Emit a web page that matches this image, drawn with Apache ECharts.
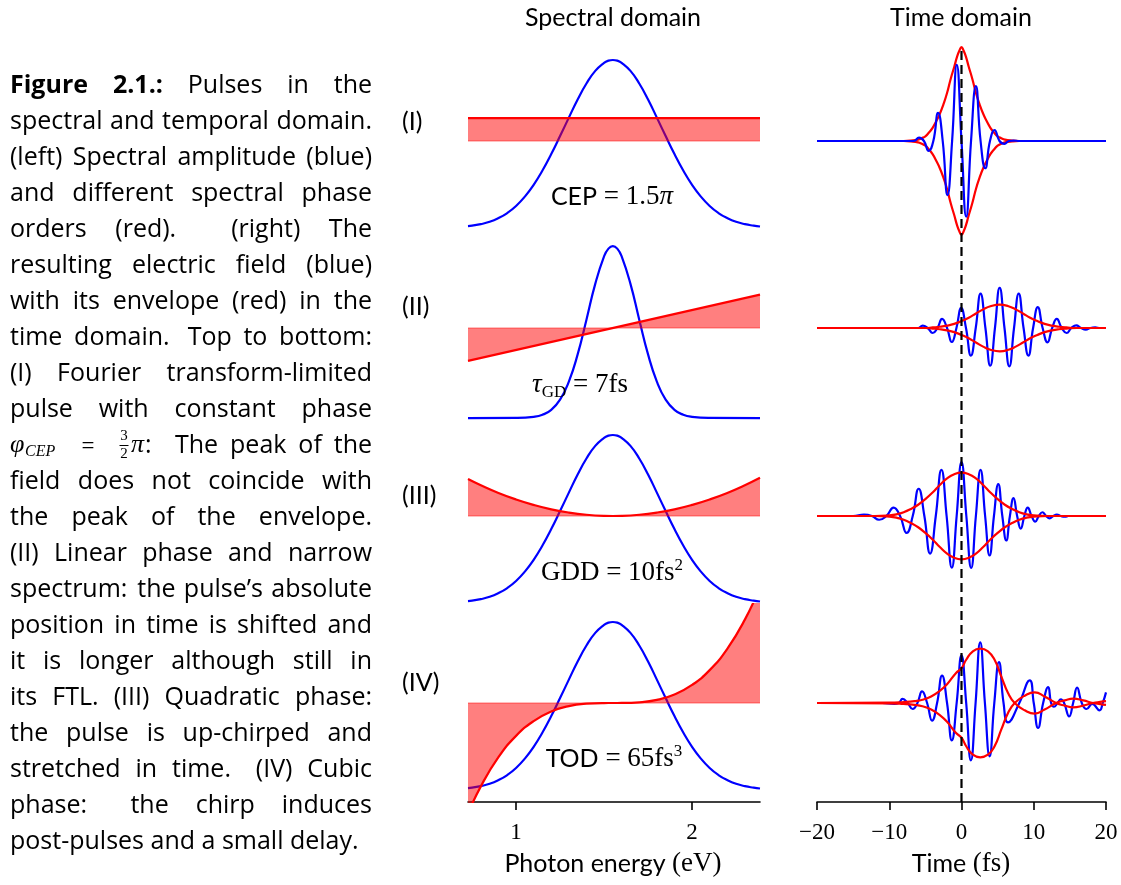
<!DOCTYPE html>
<html><head><meta charset="utf-8">
<script src="https://cdn.jsdelivr.net/npm/echarts@6/dist/echarts.min.js"></script>
<style>html,body{margin:0;padding:0;background:#fff}#c{width:1121px;height:885px}</style>
</head><body><div id="c"></div>
<script>
// ---------------- DATA ----------------
// Spectral amplitude, broad spectrum (rows I, III, IV): photon energy (eV) / amplitude
const SPEC_E = [0.727, 0.75, 0.8, 0.85, 0.9, 0.95, 1.0, 1.05, 1.1, 1.15, 1.2, 1.25, 1.3, 1.35, 1.4, 1.45, 1.5, 1.525, 1.55, 1.575, 1.6, 1.65, 1.7, 1.75, 1.8, 1.85, 1.9, 1.95, 2.0, 2.05, 2.1, 2.15, 2.2, 2.25, 2.3, 2.35, 2.386];
const SPEC_WIDE = [0.011, 0.014, 0.023, 0.037, 0.059, 0.089, 0.131, 0.187, 0.257, 0.342, 0.44, 0.547, 0.657, 0.765, 0.86, 0.935, 0.983, 0.996, 1.0, 0.996, 0.983, 0.935, 0.86, 0.765, 0.657, 0.547, 0.44, 0.342, 0.257, 0.187, 0.131, 0.089, 0.059, 0.037, 0.023, 0.014, 0.009];
// narrow spectral amplitude (row II)
const E_NARROW = [0.727, 1.0, 1.1, 1.15, 1.2, 1.25, 1.3, 1.35, 1.4, 1.45, 1.5, 1.525, 1.55, 1.575, 1.6, 1.65, 1.7, 1.75, 1.8, 1.85, 1.9, 1.95, 2.0, 2.1, 2.386];
const SPEC_NARROW = [0, 0.001, 0.007, 0.019, 0.048, 0.107, 0.212, 0.37, 0.572, 0.78, 0.94, 0.985, 1.0, 0.985, 0.94, 0.78, 0.572, 0.37, 0.212, 0.107, 0.048, 0.019, 0.007, 0.001, 0];
// spectral phases (rad)
const E_GRID = [0.727, 0.8, 0.9, 1.0, 1.1, 1.2, 1.3, 1.4, 1.5, 1.55, 1.6, 1.7, 1.8, 1.9, 2.0, 2.1, 2.2, 2.3, 2.386];
const PHASE_CEP = [4.71, 4.71, 4.71, 4.71, 4.71, 4.71, 4.71, 4.71, 4.71, 4.71, 4.71, 4.71, 4.71, 4.71, 4.71, 4.71, 4.71, 4.71, 4.71];
const E_LIN = [0.727, 2.386];
const PHASE_GD = [-8.75, 8.89];
const PHASE_GDD = [7.81, 6.49, 4.87, 3.49, 2.34, 1.41, 0.72, 0.26, 0.03, 0, 0.03, 0.26, 0.72, 1.41, 2.34, 3.49, 4.87, 6.49, 8.06];
const PHASE_TOD = [-21.2, -16.0, -10.4, -6.31, -3.47, -1.63, -0.59, -0.13, -0.005, 0, 0.005, 0.13, 0.59, 1.63, 3.47, 6.31, 10.4, 16.0, 22.2];

// Time domain (fs): electric field and envelope
const FIELD_I_T = [-20, -8, -6.6, -5.88, -5.2, -4.54, -3.9, -3.24, -2.6, -1.94, -1.3, -0.65, 0, 0.65, 1.32, 1.99, 2.64, 3.29, 3.94, 4.58, 5.26, 5.93, 6.56, 7.2, 8, 20];
const FIELD_I = [0, 0, 0, 0.035, 0, -0.106, 0, 0.30, 0, -0.575, 0, 0.81, 0, -0.805, 0, 0.585, 0, -0.29, 0, 0.117, 0, -0.03, 0, 0.005, 0, 0];
const ENV_I_T = [-20, -8, -7, -6, -5.5, -5, -4.5, -4, -3.5, -3, -2.5, -2, -1.5, -1, -0.6, -0.3, 0, 0.3, 0.6, 1, 1.5, 2, 2.5, 3, 3.5, 4, 4.5, 5, 5.5, 6, 7, 8, 20];
const ENV_I_UP = [0, 0, 0.004, 0.015, 0.03, 0.05, 0.09, 0.14, 0.21, 0.29, 0.39, 0.51, 0.66, 0.79, 0.9, 0.96, 1.0, 0.96, 0.9, 0.79, 0.66, 0.51, 0.39, 0.29, 0.21, 0.14, 0.09, 0.05, 0.03, 0.015, 0.004, 0, 0];
const ENV_I_LO = [0, 0, -0.004, -0.015, -0.03, -0.05, -0.09, -0.14, -0.21, -0.29, -0.39, -0.51, -0.66, -0.79, -0.9, -0.96, -1.0, -0.96, -0.9, -0.79, -0.66, -0.51, -0.39, -0.29, -0.21, -0.14, -0.09, -0.05, -0.03, -0.015, -0.004, 0, 0];

const FIELD_II_T = [-20, -7, -6.0, -5.37, -4.68, -3.98, -3.33, -2.69, -2.0, -1.34, -0.7, -0.05, 0.62, 1.30, 1.97, 2.64, 3.31, 3.98, 4.63, 5.28, 5.95, 6.62, 7.27, 7.92, 8.59, 9.26, 9.91, 10.56, 11.23, 11.9, 12.55, 13.19, 13.87, 14.54, 15.21, 15.88, 16.54, 17.2, 17.85, 18.5, 19.2, 20];
const FIELD_II = [0, 0, 0, 0.025, 0, -0.053, 0, 0.096, 0, -0.149, 0, 0.213, 0, -0.294, 0, 0.365, 0, -0.40, 0, 0.426, 0, -0.408, 0, 0.365, 0, -0.294, 0, 0.223, 0, -0.152, 0, 0.096, 0, -0.053, 0, 0.028, 0, -0.018, 0, 0.006, 0, 0];
const ENV_II_T = [-20, -5, -4, -3, -2, -1, 0, 1, 2, 3, 4, 5.3, 6.5, 7.5, 8.5, 9.5, 10.5, 11.5, 12.5, 13.5, 14.5, 16, 20];
const ENV_II_UP = [0, 0, 0.006, 0.013, 0.025, 0.044, 0.074, 0.11, 0.155, 0.198, 0.231, 0.248, 0.231, 0.198, 0.155, 0.11, 0.074, 0.044, 0.025, 0.013, 0.006, 0, 0];
const ENV_II_LO = [0, 0, -0.006, -0.013, -0.025, -0.044, -0.074, -0.11, -0.155, -0.198, -0.231, -0.248, -0.231, -0.198, -0.155, -0.11, -0.074, -0.044, -0.025, -0.013, -0.006, 0, 0];

const FIELD_III_T = [-20, -15, -13.5, -12.4, -11.4, -10.4, -9.4, -8.5, -7.6, -6.75, -5.93, -5.14, -4.35, -3.56, -2.78, -2.06, -1.34, -0.67, 0, 0.67, 1.34, 1.99, 2.64, 3.27, 3.89, 4.49, 5.09, 5.65, 6.2, 6.7, 7.2, 7.7, 8.2, 8.7, 9.17, 9.7, 10.2, 10.7, 11.2, 11.7, 12.2, 12.7, 13.2, 13.75, 14.3, 14.8, 20];
const FIELD_III = [0, 0, 0.014, 0, -0.04, 0, 0.09, 0, -0.18, 0, 0.29, 0, -0.40, 0, 0.49, 0, -0.55, 0, 0.574, 0, -0.553, 0, 0.49, 0, -0.42, 0, 0.34, 0, -0.26, 0, 0.19, 0, -0.135, 0, 0.09, 0, -0.06, 0, 0.04, 0, -0.025, 0, 0.015, 0, -0.008, 0, 0];
const ENV_III_T = [-20, -12, -10, -9, -8, -7, -6, -5, -4, -3, -2, -1, 0, 1, 2, 3, 4, 5, 6, 7, 8, 9, 10, 12, 20];
const ENV_III_UP = [0, 0, 0.007, 0.018, 0.04, 0.075, 0.12, 0.18, 0.25, 0.33, 0.40, 0.445, 0.461, 0.445, 0.40, 0.33, 0.25, 0.18, 0.12, 0.075, 0.04, 0.018, 0.007, 0, 0];
const ENV_III_LO = [0, 0, -0.007, -0.018, -0.04, -0.075, -0.12, -0.18, -0.25, -0.33, -0.40, -0.445, -0.461, -0.445, -0.40, -0.33, -0.25, -0.18, -0.12, -0.075, -0.04, -0.018, -0.007, 0, 0];

const FIELD_IV_T = [-20, -11, -9.3, -8.7, -8.15, -7.45, -6.76, -6.1, -5.46, -4.76, -4.07, -3.38, -2.69, -2.0, -1.34, -0.67, 0, 0.65, 1.3, 1.95, 2.59, 3.24, 3.89, 4.54, 5.19, 5.82, 6.44, 8.0, 9.44, 10.0, 10.6, 11.3, 12.0, 12.4, 12.8, 13.3, 13.75, 14.2, 14.9, 15.45, 16.0, 16.65, 17.3, 18.1, 19.1, 19.55, 20];
const FIELD_IV = [0, 0, -0.01, 0, 0.043, 0, -0.064, 0, 0.124, 0, -0.188, 0, 0.291, 0, -0.397, 0, 0.507, 0, -0.61, 0, 0.645, 0, -0.567, 0, 0.436, 0, -0.206, 0, 0.241, 0, -0.266, 0, 0.17, 0, -0.04, 0, 0.04, 0, -0.142, 0, 0.163, 0, -0.064, -0.01, -0.078, 0, 0.113];
const ENV_IV_T = [-20, -10, -8, -6.5, -5.4, -4.2, -3.1, -2, -0.75, 0, 0.65, 1.57, 2.59, 3.66, 4.58, 5.5, 6.44, 7.36, 8.75, 10.14, 11.5, 13.1, 14.3, 15.46, 16.85, 18.2, 19.2, 20];
const ENV_IV_UP = [0, 0.003, 0.01, 0.02, 0.035, 0.07, 0.124, 0.2, 0.32, 0.37, 0.46, 0.55, 0.578, 0.55, 0.46, 0.284, 0.106, 0, -0.078, -0.113, -0.07, 0, 0.028, 0.046, 0.028, 0, -0.012, -0.02];
const ENV_IV_LO = [0, -0.003, -0.01, -0.02, -0.035, -0.07, -0.124, -0.2, -0.32, -0.37, -0.46, -0.55, -0.578, -0.55, -0.46, -0.284, -0.106, 0, 0.078, 0.113, 0.07, 0, -0.028, -0.046, -0.028, 0, 0.012, 0.02];

// tick labels and row labels
const E_TICKS = [1, 2];
const T_TICKS = [-20, -10, 0, 10, 20];
const ROW_LABELS = ['(I)', '(II)', '(III)', '(IV)'];

// ---------------- LAYOUT ----------------
const ROW_TOP = [42, 229, 417, 604];
const ROW_H = 198;
const SPEC_MIN = [-0.0714, -0.052, -0.0714, -0.0714];
const SPEC_MAX = [1.107, 1.099, 1.107, 1.107];
const PHASE_LIM = [20.3, 26.4, 20.9, 19.0];
const T_LIM = 1.053;
const E_MIN = 0.727, E_MAX = 2.386;

const SANS = 'Lato';
const CAP_SANS = 'Open Sans';
const SERIF = 'Liberation Serif';
const BLUE = '#0000ff', RED = '#ff0000', FILL = 'rgba(255,0,0,0.5)';

function pairs(xs, ys) { return xs.map((x, i) => [x, ys[i]]); }

const specData = [pairs(SPEC_E, SPEC_WIDE), pairs(E_NARROW, SPEC_NARROW), pairs(SPEC_E, SPEC_WIDE), pairs(SPEC_E, SPEC_WIDE)];
const phaseData = [pairs(E_GRID, PHASE_CEP), pairs(E_LIN, PHASE_GD), pairs(E_GRID, PHASE_GDD), pairs(E_GRID, PHASE_TOD)];
const fieldData = [pairs(FIELD_I_T, FIELD_I), pairs(FIELD_II_T, FIELD_II), pairs(FIELD_III_T, FIELD_III), pairs(FIELD_IV_T, FIELD_IV)];
const envUp = [pairs(ENV_I_T, ENV_I_UP), pairs(ENV_II_T, ENV_II_UP), pairs(ENV_III_T, ENV_III_UP), pairs(ENV_IV_T, ENV_IV_UP)];
const envLo = [pairs(ENV_I_T, ENV_I_LO), pairs(ENV_II_T, ENV_II_LO), pairs(ENV_III_T, ENV_III_LO), pairs(ENV_IV_T, ENV_IV_LO)];

const grids = [], xAxes = [], yAxes = [], series = [];
const axisCommon = {
  axisLine: { onZero: false, lineStyle: { color: '#000', width: 1.6 } },
  axisTick: { length: 8, inside: false, lineStyle: { color: '#000', width: 1.6 } },
  splitLine: { show: false },
};
for (let i = 0; i < 4; i++) {
  grids.push({ left: 468, top: ROW_TOP[i], width: 292, height: ROW_H, containLabel: false, outerBoundsMode: 'none' });
}
for (let i = 0; i < 4; i++) {
  grids.push({ left: 817, top: ROW_TOP[i], width: 289, height: ROW_H, containLabel: false, outerBoundsMode: 'none' });
}
grids.push({ left: 817, top: 47, width: 289, height: 755, containLabel: false, outerBoundsMode: 'none' });

const tickLabelStyle = { margin: 19, fontFamily: SERIF, fontSize: 23, color: '#000' };
for (let i = 0; i < 4; i++) {
  xAxes.push(Object.assign({}, axisCommon, {
    gridIndex: i, type: 'value', min: E_MIN, max: E_MAX, show: i === 3,
    axisTick: Object.assign({}, axisCommon.axisTick, { customValues: E_TICKS }),
    axisLabel: Object.assign({ customValues: E_TICKS }, tickLabelStyle)
  }));
}
for (let i = 0; i < 4; i++) {
  xAxes.push(Object.assign({}, axisCommon, {
    gridIndex: 4 + i, type: 'value', min: T_TICKS[0], max: T_TICKS[T_TICKS.length - 1], interval: 10, show: i === 3,
    axisLabel: Object.assign({ showMinLabel: true, showMaxLabel: true,
      formatter: v => (v < 0 ? '\u2212' + (-v) : '' + v) }, tickLabelStyle)
  }));
}
xAxes.push({ gridIndex: 8, type: 'value', min: -20, max: 20, show: false });

for (let i = 0; i < 4; i++) {
  yAxes.push({ gridIndex: i, type: 'value', min: SPEC_MIN[i], max: SPEC_MAX[i], show: false });
  yAxes.push({ gridIndex: i, type: 'value', min: -PHASE_LIM[i], max: PHASE_LIM[i], show: false });
}
for (let i = 0; i < 4; i++) {
  yAxes.push({ gridIndex: 4 + i, type: 'value', min: -T_LIM, max: T_LIM, show: false });
}
yAxes.push({ gridIndex: 8, type: 'value', min: 0, max: 1, show: false });

const lineBase = { type: 'line', showSymbol: false, symbol: 'none', silent: true, emphasis: { disabled: true }, animation: false };
for (let i = 0; i < 4; i++) {
  series.push(Object.assign({}, lineBase, {
    xAxisIndex: i, yAxisIndex: 2 * i, data: specData[i], smooth: true, z: 2,
    lineStyle: { color: BLUE, width: 2.2 }
  }));
  series.push(Object.assign({}, lineBase, {
    xAxisIndex: i, yAxisIndex: 2 * i + 1, data: [[E_MIN, 0], [E_MAX, 0]], z: 3,
    lineStyle: { color: FILL, width: 1.2 }
  }));
  series.push(Object.assign({}, lineBase, {
    xAxisIndex: i, yAxisIndex: 2 * i + 1, data: phaseData[i], smooth: true, z: 4,
    lineStyle: { color: RED, width: 2.2 },
    areaStyle: { color: FILL, opacity: 1, origin: 0 }
  }));
}
for (let i = 0; i < 4; i++) {
  series.push(Object.assign({}, lineBase, {
    xAxisIndex: 4 + i, yAxisIndex: 8 + i, data: fieldData[i], smooth: true, z: i === 0 ? 6 : 3,
    lineStyle: { color: BLUE, width: 2.2 }
  }));
  series.push(Object.assign({}, lineBase, {
    xAxisIndex: 4 + i, yAxisIndex: 8 + i, data: envUp[i], smooth: true, z: 4,
    lineStyle: { color: RED, width: 2.2 }
  }));
  series.push(Object.assign({}, lineBase, {
    xAxisIndex: 4 + i, yAxisIndex: 8 + i, data: envLo[i], smooth: true, z: 4,
    lineStyle: { color: RED, width: 2.2 }
  }));
}
series.push(Object.assign({}, lineBase, {
  xAxisIndex: 8, yAxisIndex: 12, data: [[0, 0], [0, 1]], z: 10,
  lineStyle: { color: '#000', width: 2.2, type: [9, 5] }
}));

// ---------------- TEXT ----------------
const graphic = [];
function txt(x, y, text, opt) {
  graphic.push({ type: 'text', x: x, y: y, silent: true, z: 20,
    style: Object.assign({ text: text, fill: '#000', align: 'left', verticalAlign: 'middle',
      fontFamily: SANS, fontSize: 22 }, opt || {}) });
}
// titles
txt(613, 18, 'Spectral domain', { align: 'center', fontSize: 25 });
txt(961, 18, 'Time domain', { align: 'center', fontSize: 25 });
// row labels
const ROW_LABEL_Y = [122, 307, 496, 683];
ROW_LABELS.forEach((t, i) => txt(402, ROW_LABEL_Y[i], t, { fontSize: 25 }));
// in-panel labels
const richBase = {
  s: { fontFamily: SANS, fontSize: 25, lineHeight: 32, verticalAlign: 'middle' },
  m: { fontFamily: SERIF, fontSize: 27, lineHeight: 32, verticalAlign: 'middle' },
  i: { fontFamily: SERIF, fontStyle: 'italic', fontSize: 27, lineHeight: 32, verticalAlign: 'middle' },
  sup: { fontFamily: SERIF, fontSize: 17, lineHeight: 17, verticalAlign: 'top' },
  sub: { fontFamily: SERIF, fontSize: 17, lineHeight: 17, verticalAlign: 'bottom' }
};
txt(612, 197, '{s|CEP}{m| = 1.5}{i|π}', { align: 'center', rich: richBase });
txt(580, 385, '{i|τ}{sub|GD}{m| = 7fs}', { align: 'center', rich: richBase });
txt(612, 573, '{m|GDD = 10fs}{sup|2}', { align: 'center', rich: richBase });
txt(614, 759, '{s|TOD}{m| = 65fs}{sup|3}', { align: 'center', rich: richBase });
// axis names
txt(613, 864, '{s|Photon energy }{m|(eV)}', { align: 'center', rich: richBase });
txt(961, 864, '{s|Time }{m|(fs)}', { align: 'center', rich: richBase });

// caption (justified)
const CAP_LINES = [
  ['*Figure', '*2.1.:', 'Pulses', 'in', 'the'],
  ['spectral', 'and', 'temporal', 'domain.'],
  ['(left)', 'Spectral', 'amplitude', '(blue)'],
  ['and', 'different', 'spectral', 'phase'],
  ['orders', '(red).', '(right)', 'The'],
  ['resulting', 'electric', 'field', '(blue)'],
  ['with', 'its', 'envelope', '(red)', 'in', 'the'],
  ['time', 'domain.', 'Top', 'to', 'bottom:'],
  ['(I)', 'Fourier', 'transform-limited'],
  ['pulse', 'with', 'constant', 'phase'],
  null,
  ['field', 'does', 'not', 'coincide', 'with'],
  ['the', 'peak', 'of', 'the', 'envelope.'],
  ['(II)', 'Linear', 'phase', 'and', 'narrow'],
  ['spectrum:', 'the', 'pulse\u2019s', 'absolute'],
  ['position', 'in', 'time', 'is', 'shifted', 'and'],
  ['it', 'is', 'longer', 'although', 'still', 'in'],
  ['its', 'FTL.', '(III)', 'Quadratic', 'phase:'],
  ['the', 'pulse', 'is', 'up-chirped', 'and'],
  ['stretched', 'in', 'time.', '(IV)', 'Cubic'],
  ['phase:', 'the', 'chirp', 'induces'],
  ['post-pulses', 'and', 'a', 'small', 'delay.']
];
const CAP_X0 = 10, CAP_X1 = 372, CAP_Y0 = 85.5, CAP_DY = 36;
const mctx = document.createElement('canvas').getContext('2d');
function mw(t, size, bold) { mctx.font = (bold ? 'bold ' : '') + size + 'px "' + CAP_SANS + '"'; return mctx.measureText(t).width; }
const CAP_FS = Math.max(19, Math.min(25, 22 * 350 / mw('post-pulses and a small delay.', 22, false)));
function justify(words, x0, x1, y, last, noWeight) {
  const ws = words.map(wd => { const b = wd[0] === '*'; const t = b ? wd.slice(1) : wd; return { t: t, b: b, w: mw(t, CAP_FS, b) }; });
  const sp = mw(' ', CAP_FS, false);
  const sum = ws.reduce((a, o) => a + o.w, 0);
  const n = ws.length;
  const gaps = [];
  let hscale = 1;
  if (last || n === 1) { for (let k = 0; k < n - 1; k++) gaps.push(sp); }
  else {
    const weights = [];
    for (let k = 0; k < n - 1; k++) {
      const t = ws[k].t;
      let wgt = 1;
      if (!noWeight && /\.$/.test(t) && !/[A-Z]\.$/.test(t)) wgt = 2.2;
      if (!noWeight && /:$/.test(t)) wgt = 1.8;
      weights.push(wgt);
    }
    const wsum = weights.reduce((a, b) => a + b, 0);
    const stretch = (x1 - x0) - sum - (n - 1) * sp;
    if (stretch >= 0) {
      for (let k = 0; k < n - 1; k++) gaps.push(sp + stretch * weights[k] / wsum);
    } else {
      const minGap = sp * 0.6;
      const avail = (x1 - x0) - sum;
      let g = avail / (n - 1);
      if (g < minGap) { g = minGap; hscale = ((x1 - x0) - (n - 1) * g) / sum; }
      for (let k = 0; k < n - 1; k++) gaps.push(g);
    }
  }
  let x = x0;
  ws.forEach((o, k) => {
    const fs = CAP_FS * hscale;
    txt(x, y, o.t, { fontFamily: CAP_SANS, fontSize: fs, fontWeight: o.b ? 'bold' : 'normal' });
    x += o.w * hscale + (k < n - 1 ? gaps[k] : 0);
  });
}
CAP_LINES.forEach((l, idx) => {
  const y = CAP_Y0 + idx * CAP_DY;
  if (l) { justify(l, CAP_X0, CAP_X1, y, idx === CAP_LINES.length - 1, idx === 0); return; }
  // math line: φ_CEP = 3/2 π: The peak of the
  txt(10, y, 'φ', { fontFamily: SERIF, fontStyle: 'italic', fontSize: 26 });
  txt(25, y + 6, 'CEP', { fontFamily: SERIF, fontStyle: 'italic', fontSize: 16 });
  txt(88, y + 1, '=', { fontFamily: SERIF, fontSize: 23, align: 'center' });
  txt(124, y - 9, '3', { fontFamily: SERIF, fontSize: 15, align: 'center' });
  graphic.push({ type: 'line', silent: true, z: 20, shape: { x1: 119.5, y1: y, x2: 128.5, y2: y }, style: { stroke: '#000', lineWidth: 1 } });
  txt(124, y + 9, '2', { fontFamily: SERIF, fontSize: 15, align: 'center' });
  txt(131, y, 'π', { fontFamily: SERIF, fontStyle: 'italic', fontSize: 26 });
  txt(145, y, ':', { fontFamily: CAP_SANS, fontSize: CAP_FS });
  justify(['The', 'peak', 'of', 'the'], 175, CAP_X1, y, false, true);
});

const chart = echarts.init(document.getElementById('c'), null, { renderer: 'canvas' });
chart.setOption({
  backgroundColor: '#fff',
  animation: false,
  grid: grids, xAxis: xAxes, yAxis: yAxes, series: series, graphic: graphic
});
</script></body></html>
